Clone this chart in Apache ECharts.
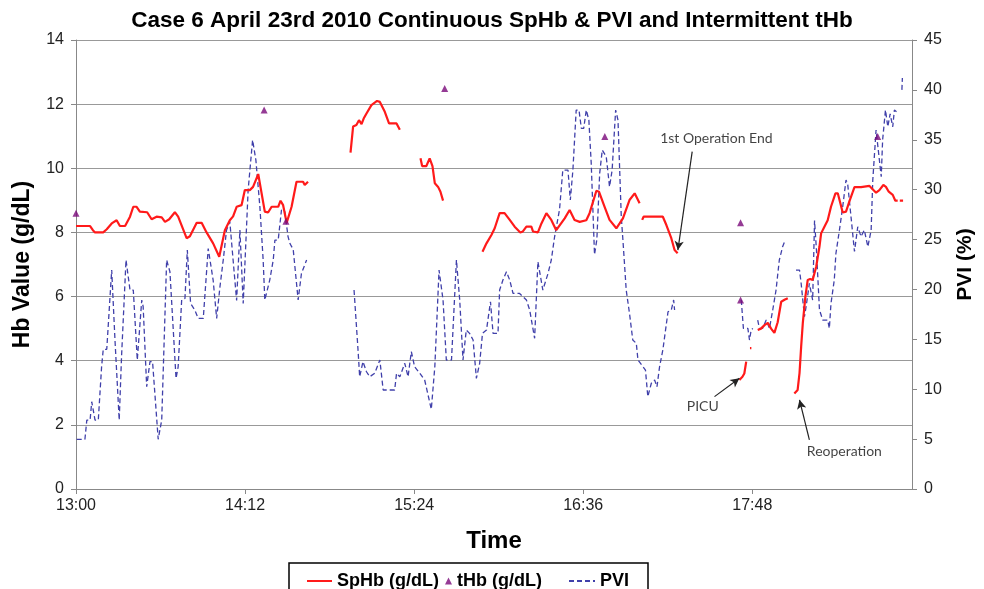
<!DOCTYPE html>
<html>
<head>
<meta charset="utf-8">
<script src="https://cdn.jsdelivr.net/npm/echarts@6/dist/echarts.min.js"></script>
<style>
  html, body { margin: 0; padding: 0; background: #fff; }
  #chart { width: 984px; height: 589px; }
</style>
</head>
<body>
<div id="chart"></div>
<script>
// time in minutes after 13:00, value in g/dL; null = gap in the trace
const spHb = [
  [0, 8.2], [6.0, 8.2], [7.2, 8.07], [8.1, 8.0], [11.6, 8.0], [13.1, 8.1], [15.2, 8.28], [17.3, 8.38],
  [18.7, 8.2], [20.9, 8.2], [23.0, 8.49], [24.4, 8.8], [25.8, 8.8], [27.2, 8.65], [30.3, 8.63], [32.2, 8.41],
  [34.3, 8.49], [36.5, 8.47], [37.9, 8.33], [39.7, 8.41], [42.1, 8.63], [43.5, 8.49], [47.1, 7.82], [48.5, 7.88],
  [51.4, 8.3], [53.5, 8.3], [55.6, 8.0], [58.4, 7.66], [61.0, 7.24], [63.4, 8.07], [65.5, 8.38], [66.9, 8.5],
  [68.4, 8.8], [70.5, 8.85], [71.9, 9.32], [74.0, 9.32], [75.4, 9.42], [77.6, 9.82], [78.3, 9.78], [80.4, 8.65],
  [81.8, 8.62], [83.3, 8.8], [86.1, 8.8], [87.1, 8.99], [88.2, 8.85], [89.7, 8.3], [91.8, 8.8], [93.9, 9.58],
  [96.7, 9.58], [97.4, 9.48], [98.8, 9.58],
  null,
  [116.9, 10.49], [118.0, 11.3], [119.4, 11.35], [120.5, 11.5], [121.6, 11.38], [122.5, 11.55], [123.7, 11.71],
  [125.8, 11.97], [128.2, 12.1], [129.4, 12.07], [131.5, 11.76], [133.3, 11.4], [136.5, 11.4], [137.9, 11.2],
  null,
  [146.7, 10.31], [147.4, 10.07], [149.2, 10.07], [150.6, 10.31], [151.8, 10.07], [152.8, 9.53], [154.2, 9.42],
  [155.2, 9.27], [156.3, 8.99],
  null,
  [173.1, 7.4], [174.8, 7.66], [176.9, 7.92], [178.3, 8.13], [180.4, 8.6], [182.5, 8.6], [184.7, 8.39], [186.8, 8.18],
  [189.2, 8.0], [190.3, 8.03], [191.8, 8.18], [193.9, 8.18], [194.6, 8.03], [196.7, 8.0], [198.2, 8.28], [200.3, 8.6],
  [202.4, 8.39], [204.5, 8.07], [208.1, 8.44], [210.2, 8.7], [212.3, 8.39], [214.5, 8.33], [217.3, 8.38], [218.7, 8.6],
  [221.6, 9.3], [222.7, 9.27], [225.1, 8.8], [227.2, 8.39], [230.1, 8.13], [231.5, 8.28], [232.9, 8.44], [235.7, 9.01],
  [237.9, 9.22], [240.0, 8.91],
  null,
  [241.1, 8.39], [241.7, 8.49], [249.9, 8.49], [251.4, 8.23], [253.5, 7.82], [254.9, 7.45], [256.2, 7.35],
  null,
  [282.5, 3.4], [283.8, 3.5], [284.6, 3.6], [285.4, 3.97],
  null,
  [287.0, 4.39], [287.6, 4.39],
  null,
  [290.3, 4.96], [291.7, 5.0], [293.2, 5.11], [294.6, 5.18], [296.0, 5.0], [297.4, 4.87], [298.8, 5.2], [300.3, 5.84],
  [301.7, 5.9], [303.1, 5.95],
  null,
  [305.9, 2.98], [307.3, 3.09], [308.1, 3.61], [308.8, 4.44], [309.5, 5.17], [310.6, 6.0], [311.6, 6.52], [312.6, 6.55],
  [313.7, 6.52], [315.2, 6.93], [316.6, 7.56], [317.3, 7.97], [318.7, 8.18], [320.1, 8.38], [321.5, 8.8], [323.4, 9.22],
  [324.4, 9.22], [326.5, 8.62], [327.9, 8.65], [329.3, 8.96], [331.5, 9.41], [334.3, 9.41], [337.9, 9.45], [338.6, 9.5],
  [340.7, 9.24], [342.1, 9.32], [343.8, 9.48], [344.9, 9.42], [346.1, 9.27], [347.8, 9.17], [348.9, 8.99], [349.9, 8.99],
  null,
  [350.8, 8.99], [352.2, 8.99]
];

const tHb = [
  [0, 8.6], [80.1, 11.82], [89.4, 8.35], [157.0, 12.49], [225.2, 10.99], [283.0, 8.3], [283.0, 5.89], [341.4, 10.99]
];

// PVI in %, same time base
const pvi = [
  [0.3, 4.98], [3.8, 4.98], [4.6, 6.91], [6.0, 6.91], [6.7, 8.75], [7.4, 8.9], [8.1, 6.91], [9.5, 6.91],
  [10.9, 12.25], [11.6, 14.0], [13.1, 14.0], [15.2, 21.94], [16.6, 14.93], [18.4, 6.91], [19.4, 13.3], [21.3, 22.95],
  [23.0, 19.94], [24.4, 19.94], [26.1, 12.93], [28.0, 18.94], [28.6, 18.27], [30.1, 10.25], [31.5, 12.76], [32.6, 12.76],
  [35.0, 4.98], [36.5, 6.91], [38.6, 22.95], [40.0, 21.77], [42.6, 11.09], [43.5, 12.25], [45.0, 18.94], [46.4, 19.1],
  [47.4, 23.95], [48.8, 18.6], [50.6, 17.94], [52.0, 17.1], [54.2, 17.1], [56.3, 24.1], [58.4, 20.94], [59.9, 17.1],
  [61.3, 20.27], [62.7, 22.95], [64.1, 25.95], [65.5, 26.8], [66.9, 22.95], [68.4, 18.9], [69.8, 25.95], [71.2, 18.6],
  [73.3, 29.96], [75.2, 34.97], [76.6, 32.97], [78.3, 28.3], [79.7, 22.95], [80.4, 18.94], [82.5, 20.94], [84.0, 22.95],
  [84.7, 24.95], [86.1, 24.95], [87.5, 27.96], [88.9, 27.8], [90.3, 25.3], [91.1, 24.6], [92.5, 24.0], [94.6, 18.94],
  [96.0, 21.6], [98.2, 22.95],
  null,
  [118.4, 19.94], [120.1, 13.93], [120.8, 11.25], [122.2, 12.76], [123.7, 11.75], [125.1, 11.25], [127.2, 11.6],
  [129.4, 12.93], [130.8, 9.92], [135.7, 9.92], [136.5, 11.6], [137.9, 11.25], [140.0, 12.6], [141.4, 11.25],
  [142.8, 13.76], [144.2, 12.25], [146.4, 11.6], [148.5, 10.9], [151.3, 7.99], [152.8, 12.25], [154.6, 21.94],
  [156.3, 18.94], [157.7, 12.93], [159.9, 12.93], [162.0, 22.95], [163.4, 18.94], [164.8, 12.93], [166.2, 15.93],
  [167.6, 15.6], [169.1, 14.93], [170.5, 11.09], [171.9, 12.6], [173.1, 15.6], [174.8, 15.93], [176.5, 18.77],
  [177.6, 15.6], [179.7, 15.6], [180.4, 19.94], [181.8, 20.94], [183.3, 21.77], [184.7, 20.94], [186.1, 19.6],
  [188.9, 19.6], [191.8, 18.94], [193.2, 17.94], [195.3, 15.1], [196.7, 22.78], [198.8, 19.94], [201.0, 21.6],
  [202.4, 22.95], [203.8, 25.28], [205.9, 28.0], [207.3, 31.96], [209.5, 31.96], [210.5, 28.96], [211.6, 31.96],
  [213.0, 37.98], [214.2, 37.98], [215.2, 36.14], [216.2, 36.14], [217.3, 37.98], [218.4, 36.97], [219.4, 32.64],
  [220.8, 23.5], [221.8, 25.0], [223.0, 31.63], [224.1, 33.97], [225.8, 33.3], [227.2, 30.29], [228.3, 31.96],
  [229.8, 37.98], [230.8, 36.97], [232.2, 27.28], [232.9, 24.95], [234.3, 19.94], [235.7, 17.6], [237.1, 14.93],
  [238.6, 14.6], [239.3, 12.93], [242.5, 11.92], [243.5, 9.25], [245.0, 10.6], [246.4, 10.92], [247.4, 10.25],
  [248.5, 12.25], [249.9, 13.93], [252.1, 17.76], [253.5, 17.94], [254.5, 18.94], [254.9, 17.94],
  null,
  [283.3, 18.94], [284.2, 16.1], [286.1, 16.1], [286.8, 14.93], [287.5, 15.93], [288.2, 16.1],
  null,
  [290.3, 16.93], [291.0, 16.1], [292.4, 16.1], [293.9, 16.93], [295.3, 16.1], [296.7, 17.94], [298.1, 19.94],
  [299.5, 22.95], [300.9, 24.28], [302.0, 24.95],
  null,
  [306.6, 21.94], [308.1, 21.94], [308.8, 20.6], [310.2, 17.27], [310.9, 18.27], [312.3, 20.6], [313.7, 18.94],
  [314.5, 26.9], [315.3, 24.0], [316.6, 17.94], [318.0, 16.93], [320.1, 16.93], [320.8, 16.1], [321.5, 18.6],
  [322.9, 20.94], [323.6, 23.6], [325.1, 25.95], [326.5, 28.3], [327.9, 30.96], [328.6, 30.6], [330.1, 27.12],
  [331.5, 23.8], [332.9, 26.28], [334.3, 25.3], [335.7, 25.95], [337.2, 24.28], [338.6, 25.95], [339.3, 30.96],
  [340.7, 35.97], [342.1, 33.0], [342.9, 31.3], [343.5, 35.0], [344.7, 37.98], [345.7, 36.3], [346.7, 37.6],
  [347.8, 36.3], [348.5, 37.98], [349.4, 37.8],
  null,
  [351.7, 40.0], [351.9, 41.2]
];

const xTickLabels = ['13:00', '14:12', '15:24', '16:36', '17:48'];
const xStep = 72;      // minutes between labelled ticks
const xEnd = 356;      // end of recording window, minutes after 13:00

// annotation: text position and arrow from -> to, in (minutes, g/dL)
const notes = [
  { text: '1st Operation End', at: [272.7, 10.94], from: [262.4, 10.52], to: [256.3, 7.45] },
  { text: 'PICU', at: [266.9, 2.57], from: [271.9, 2.88], to: [282.5, 3.45] },
  { text: 'Reoperation', at: [327.2, 1.16], from: [312.3, 1.53], to: [308.1, 2.78] }
];

const withGaps = arr => arr.map(p => p === null ? ['-', '-'] : p);

const chart = echarts.init(document.getElementById('chart'));

const axisFont = { fontFamily: 'Liberation Sans, Arial, sans-serif', fontSize: 16, color: '#222' };
const nameFont = { fontFamily: 'Liberation Sans, Arial, sans-serif', fontWeight: 'bold', color: '#000' };
const legendText = { fontFamily: 'Liberation Sans, Arial, sans-serif', fontWeight: 'bold', fontSize: 18, color: '#000' };

chart.setOption({
  animation: false,
  backgroundColor: '#fff',
  title: {
    text: 'Case 6 April 23rd 2010 Continuous SpHb & PVI and Intermittent tHb',
    left: 'center',
    top: 4,
    textStyle: { fontFamily: 'Liberation Sans, Arial, sans-serif', fontWeight: 'bold', fontSize: 22.5, color: '#000' }
  },
  // fixed plot box, do not let axis names push it inwards
  grid: { left: 76, right: 72, top: 40, bottom: 100, outerBoundsMode: 'none', containLabel: false },
  legend: [
    { data: ['SpHb (g/dL)'], left: 301, top: 567, itemWidth: 25, itemHeight: 10, itemStyle: { opacity: 0 }, textStyle: legendText, selectedMode: false },
    { data: ['tHb (g/dL)'], left: 440, top: 567, itemWidth: 7, itemHeight: 7, textStyle: legendText, selectedMode: false },
    { data: ['PVI'], left: 563, top: 567, itemWidth: 26, itemHeight: 10, itemStyle: { opacity: 0 }, textStyle: legendText, selectedMode: false }
  ],
  graphic: [{
    type: 'rect',
    shape: { x: 289, y: 563, width: 359, height: 40 },
    style: { fill: 'none', stroke: '#000', lineWidth: 1.5 },
    silent: true
  }],
  xAxis: {
    type: 'value',
    min: 0,
    max: xEnd,
    interval: xStep,
    name: 'Time',
    nameLocation: 'middle',
    nameGap: 40,
    nameTextStyle: Object.assign({ fontSize: 24 }, nameFont),
    axisLine: { lineStyle: { color: '#888' } },
    axisTick: { inside: false, length: 5, lineStyle: { color: '#888' } },
    splitLine: { show: false },
    axisLabel: Object.assign({
      margin: 9,
      showMaxLabel: false,
      formatter: v => xTickLabels[Math.round(v / xStep)] || ''
    }, axisFont)
  },
  yAxis: [{
    type: 'value',
    min: 0,
    max: 14,
    interval: 2,
    name: 'Hb Value (g/dL)',
    nameLocation: 'middle',
    nameGap: 42,
    nameTextStyle: Object.assign({ fontSize: 23 }, nameFont),
    axisLine: { show: true, lineStyle: { color: '#888' } },
    axisTick: { show: true, length: 5, lineStyle: { color: '#888' } },
    splitLine: { lineStyle: { color: '#999', width: 1 } },
    axisLabel: Object.assign({ margin: 12 }, axisFont)
  }, {
    type: 'value',
    min: 0,
    max: 45,
    interval: 5,
    name: 'PVI (%)',
    nameLocation: 'middle',
    nameGap: 43,
    nameRotate: 90,
    nameTextStyle: Object.assign({ fontSize: 21 }, nameFont),
    axisLine: { show: true, lineStyle: { color: '#888' } },
    axisTick: { show: true, length: 5, lineStyle: { color: '#888' } },
    splitLine: { show: false },
    axisLabel: Object.assign({ margin: 12 }, axisFont)
  }],
  series: [{
    name: 'SpHb (g/dL)',
    type: 'line',
    yAxisIndex: 0,
    data: withGaps(spHb),
    symbol: 'none',
    connectNulls: false,
    lineStyle: { color: '#ff1a1a', width: 2.2 },
    itemStyle: { color: '#ff1a1a' },
    z: 4,
    markLine: {
      silent: true,
      symbol: ['none', 'arrow'],
      symbolSize: [7, 9],
      label: { show: false },
      lineStyle: { color: '#222', width: 1.2, type: 'solid' },
      data: notes.map(n => [{ coord: n.from }, { coord: n.to }])
    }
  }, {
    name: 'PVI',
    type: 'line',
    yAxisIndex: 1,
    data: withGaps(pvi),
    symbol: 'none',
    connectNulls: false,
    lineStyle: { color: '#4040aa', width: 1.3, type: [5, 3] },
    itemStyle: { color: '#4040aa' },
    z: 3
  }, {
    name: 'tHb (g/dL)',
    type: 'scatter',
    yAxisIndex: 0,
    data: tHb,
    symbol: 'triangle',
    symbolSize: 7,
    itemStyle: { color: '#7a0a7a' },
    z: 5
  }, {
    name: 'notes',
    type: 'scatter',
    yAxisIndex: 0,
    data: notes.map(n => ({ value: n.at, name: n.text })),
    symbolSize: 0,
    silent: true,
    label: {
      show: true,
      position: 'inside',
      formatter: p => p.name,
      fontFamily: 'Lato, Open Sans, sans-serif',
      fontSize: 14,
      color: '#111'
    },
    z: 6
  }]
});
</script>
</body>
</html>
